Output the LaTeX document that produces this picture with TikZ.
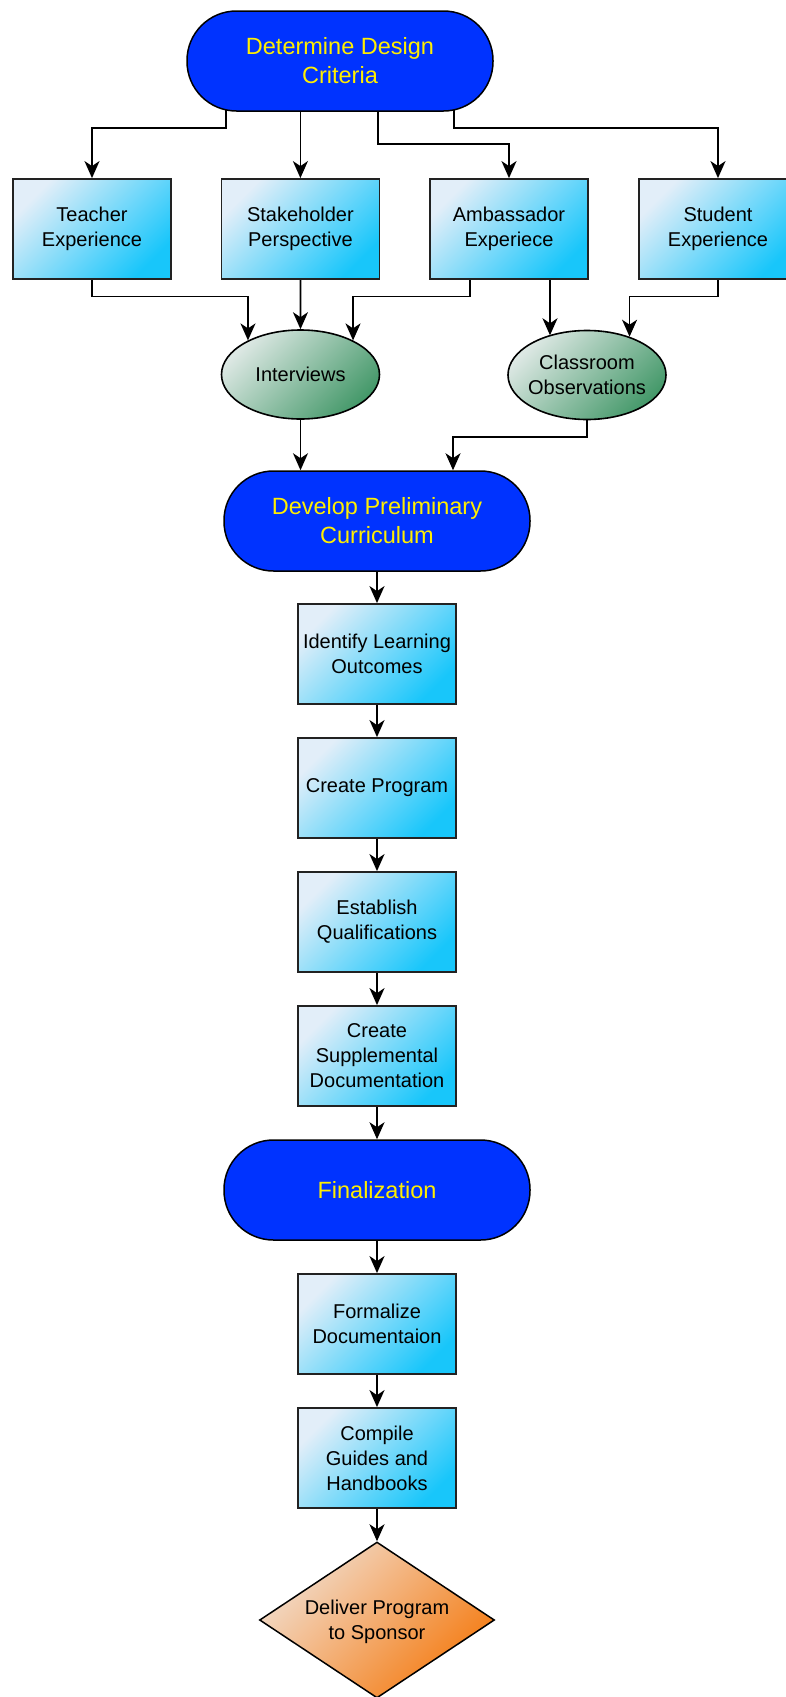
\documentclass[tikz,border=0pt]{standalone}
\usepackage{fontspec}
\setmainfont{Liberation Sans}
\usetikzlibrary{arrows.meta,shapes.geometric,calc}
\pgfdeclarelayer{bg}
\pgfsetlayers{bg,main}
\definecolor{termblue}{HTML}{0033FF}
\definecolor{termtext}{HTML}{FFEE00}
\definecolor{boxlight}{HTML}{E2EEF9}
\definecolor{boxdark}{HTML}{18C6FA}
\definecolor{elllight}{HTML}{DDE8E4}
\definecolor{elldark}{HTML}{45996A}
\definecolor{dialight}{HTML}{F2DCCB}
\definecolor{diadark}{HTML}{F47B12}
\definecolor{edgegray}{HTML}{222222}
\tikzset{
  terminal/.style={rectangle, rounded corners=49.5pt, draw=black, line width=1.5pt,
    fill=termblue, text=termtext, minimum width=306pt, minimum height=100pt,
    font=\fontsize{23.5}{29}\selectfont, align=center, inner sep=0pt},
  stepbox/.style={rectangle, draw=edgegray, line width=1.8pt,
    top color=boxlight, bottom color=boxdark, shading angle=45,
    minimum width=158pt, minimum height=100pt,
    font=\fontsize{20}{25}\selectfont, align=center, inner sep=0pt},
  source/.style={ellipse, draw=black, line width=1.6pt,
    top color=elllight, bottom color=elldark, shading angle=45,
    minimum width=158pt, minimum height=89pt, inner xsep=-6pt, inner ysep=0pt,
    font=\fontsize{20}{25}\selectfont, align=center},
  goal/.style={diamond, draw=black, line width=1.5pt,
    top color=dialight, bottom color=diadark, shading angle=45,
    aspect=1.5, minimum width=235pt, minimum height=156pt, inner sep=0pt,
    font=\fontsize{20}{25}\selectfont, align=center},
  arr/.style={line width=1.8pt, -{Stealth[length=17pt,width=15pt,inset=5pt]}}
}
\begin{document}
\begin{tikzpicture}[x=1pt,y=-1pt]
\useasboundingbox (0,0) rectangle (786,1697);
\begin{pgfonlayer}{bg}
\fill[white] (0,0) rectangle (786,1697);
\end{pgfonlayer}

\node[terminal] (top) at (340,61) {Determine Design\\Criteria};
\node[stepbox] (teacher) at (92,229) {Teacher\\Experience};
\node[stepbox] (stake) at (300.4,229) {Stakeholder\\Perspective};
\node[stepbox] (amb) at (509,229) {Ambassador\\Experiece};
\node[stepbox] (student) at (718,229) {Student\\Experience};
\node[source] (int) at (300.5,374.5) {Interviews};
\node[source] (cls) at (587,375) {Classroom\\Observations};
\node[terminal] (dev) at (377,521) {Develop Preliminary\\Curriculum};
\node[stepbox] (ident) at (377,654) {Identify Learning\\Outcomes};
\node[stepbox] (prog) at (377,788) {Create Program};
\node[stepbox] (qual) at (377,922) {Establish\\Qualifications};
\node[stepbox] (supp) at (377,1056) {Create\\Supplemental\\Documentation};
\node[terminal] (fin) at (377,1190) {Finalization};
\node[stepbox] (formal) at (377,1324) {Formalize\\Documentaion};
\node[stepbox] (compile) at (377,1458) {Compile\\Guides and\\Handbooks};
\node[goal, text depth=-6pt] (deliver) at (377,1620) {Deliver Program\\to Sponsor};

\coordinate (a2) at ([xshift=41pt]amb.south);

\begin{pgfonlayer}{bg}
\draw[arr] ([xshift=-114pt]top.center) -- ++(0,67) -| (teacher.north);
\draw[arr] (top.center -| stake.north) -- (stake.north);
\draw[arr] ([xshift=38pt]top.center) -- ++(0,83) -| (amb.north);
\draw[arr] ([xshift=114pt]top.center) -- ++(0,67) -| (student.north);

\draw[arr] (teacher.south) -- ++(0,16.5) -| (int.147);
\draw[arr] (stake.south) -- (int.north);
\draw[arr] ([xshift=-39pt]amb.south) -- ++(0,16.5) -| (int.33);
\draw[arr] (a2) -- (a2 |- cls.134);
\draw[arr] (student.south) -- ++(0,16.5) -| (cls.42);

\draw[arr] (int.south) -- (int.south |- dev.north);
\draw[arr] (cls.south) -- ++(0,17) -| ([xshift=76pt]dev.north);

\draw[arr] (dev) -- (ident);
\draw[arr] (ident) -- (prog);
\draw[arr] (prog) -- (qual);
\draw[arr] (qual) -- (supp);
\draw[arr] (supp) -- (fin);
\draw[arr] (fin) -- (formal);
\draw[arr] (formal) -- (compile);
\draw[arr] (compile) -- (deliver);
\end{pgfonlayer}
\end{tikzpicture}
\end{document}
